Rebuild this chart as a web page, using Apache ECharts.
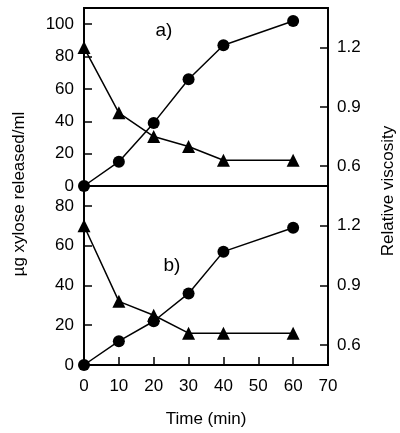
<!DOCTYPE html>
<html>
<head>
<meta charset="utf-8">
<script src="https://cdn.jsdelivr.net/npm/echarts@6/dist/echarts.min.js"></script>
<style>
  html, body { margin: 0; padding: 0; background: #fff; }
  #chart { width: 400px; height: 433px; }
</style>
</head>
<body>
<div id="chart"></div>
<script>
// time points (min)
const times = [0, 10, 20, 30, 40, 60]
// panel a)
const xyloseA = [0, 15, 39, 66, 87, 102]
const viscA = [1.2, 0.87, 0.75, 0.70, 0.63, 0.63]
// panel b)
const xyloseB = [0, 12, 22, 36, 57, 69]
const viscB = [1.2, 0.82, 0.75, 0.66, 0.66, 0.66]
// tick labels
const xTicks = [0, 10, 20, 30, 40, 50, 60, 70]
const leftTicksA = [0, 20, 40, 60, 80, 100]
const leftTicksB = [0, 20, 40, 60, 80]
const rightTicks = [0.6, 0.9, 1.2]

const font = '"Liberation Sans", Arial, Helvetica, sans-serif'
const black = '#000'

const pairs = (xs, ys) => xs.map((x, i) => [x, ys[i]])

// common axis bits
const axisLine = { show: true, lineStyle: { color: black, width: 1.8 } }
const tick = (vals) => ({ show: true, inside: true, length: 8, customValues: vals, lineStyle: { color: black, width: 1.5 } })
const label = (vals, margin) => ({
  show: true,
  customValues: vals,
  margin: margin,
  color: black,
  fontSize: 17,
  fontFamily: font,
  formatter: v => String(v)
})

function lineSeries(data, xi, yi, sym, size) {
  return {
    type: 'line',
    xAxisIndex: xi,
    yAxisIndex: yi,
    data: data,
    symbol: sym,
    symbolSize: size,
    showAllSymbol: true,
    clip: false,
    lineStyle: { color: black, width: 1.5 },
    itemStyle: { color: black },
    z: 5
  }
}

const chart = echarts.init(document.getElementById('chart'), null, { renderer: 'canvas' })

chart.setOption({
  animation: false,
  backgroundColor: '#fff',
  textStyle: { fontFamily: font, color: black },
  grid: [
    { left: 84, right: 72, top: 8, height: 178, show: true, borderColor: black, borderWidth: 1.8 },
    { left: 84, right: 72, top: 186, height: 179, show: true, borderColor: black, borderWidth: 1.8 }
  ],
  xAxis: [
    {
      gridIndex: 0, type: 'value', min: 0, max: 70, interval: 10,
      axisLine: axisLine, axisTick: { show: false }, axisLabel: { show: false }, splitLine: { show: false }
    },
    {
      gridIndex: 1, type: 'value', min: 0, max: 70, interval: 10,
      axisLine: axisLine, axisTick: tick(xTicks), axisLabel: label(xTicks, 13), splitLine: { show: false },
      name: 'Time (min)', nameLocation: 'middle', nameGap: 46,
      nameTextStyle: { color: black, fontSize: 17, fontFamily: font }
    }
  ],
  yAxis: [
    {
      gridIndex: 0, type: 'value', min: 0, max: 110, position: 'left',
      axisLine: axisLine, axisTick: tick(leftTicksA), axisLabel: label(leftTicksA, 10), splitLine: { show: false }
    },
    {
      gridIndex: 0, type: 'value', min: 0.5, max: 1.4, position: 'right',
      axisLine: axisLine, axisTick: tick(rightTicks), axisLabel: label(rightTicks, 9), splitLine: { show: false }
    },
    {
      gridIndex: 1, type: 'value', min: 0, max: 90, position: 'left',
      axisLine: axisLine, axisTick: tick(leftTicksB), axisLabel: label(leftTicksB, 10), splitLine: { show: false }
    },
    {
      gridIndex: 1, type: 'value', min: 0.5, max: 1.4, position: 'right',
      axisLine: axisLine, axisTick: tick(rightTicks), axisLabel: label(rightTicks, 9), splitLine: { show: false }
    }
  ],
  graphic: [
    { type: 'text', x: 164, y: 31, style: { text: 'a)', font: '19px ' + font, fill: black, align: 'center', verticalAlign: 'middle' } },
    { type: 'text', x: 172, y: 266, style: { text: 'b)', font: '19px ' + font, fill: black, align: 'center', verticalAlign: 'middle' } },
    { type: 'text', x: 19, y: 194, rotation: Math.PI / 2, style: { text: 'µg xylose released/ml', font: '17px ' + font, fill: black, align: 'center', verticalAlign: 'middle' } },
    { type: 'text', x: 388, y: 191, rotation: Math.PI / 2, style: { text: 'Relative viscosity', font: '17px ' + font, fill: black, align: 'center', verticalAlign: 'middle' } }
  ],
  series: [
    lineSeries(pairs(times, xyloseA), 0, 0, 'circle', 12),
    lineSeries(pairs(times, viscA), 0, 1, 'triangle', 13),
    lineSeries(pairs(times, xyloseB), 1, 2, 'circle', 12),
    lineSeries(pairs(times, viscB), 1, 3, 'triangle', 13)
  ]
})
</script>
</body>
</html>
